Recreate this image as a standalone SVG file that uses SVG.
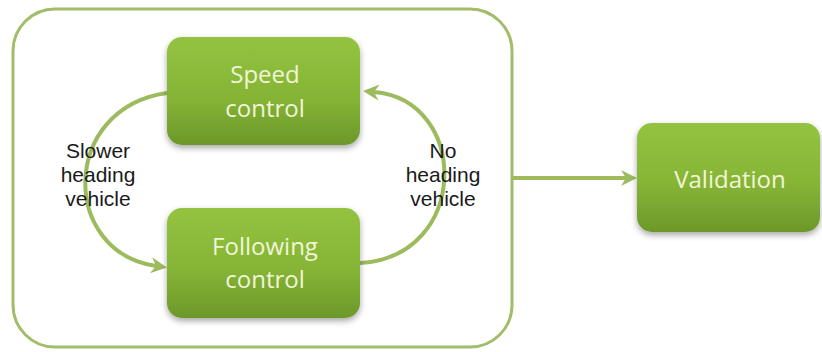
<svg xmlns="http://www.w3.org/2000/svg" width="822" height="352" viewBox="0 0 822 352">
<defs>
<linearGradient id="g" x1="0" y1="0" x2="0" y2="1">
<stop offset="0" stop-color="#93c33f"/>
<stop offset="0.55" stop-color="#86b536"/>
<stop offset="1" stop-color="#6c982a"/>
</linearGradient>
<filter id="sh" x="-10%" y="-10%" width="120%" height="130%">
<feDropShadow dx="0" dy="3" stdDeviation="3" flood-color="#000" flood-opacity="0.35"/>
</filter>
<marker id="ah" markerWidth="18" markerHeight="18" refX="6" refY="9" orient="auto" markerUnits="userSpaceOnUse">
<path d="M1,1 L17,9 L1,17 L6,9 z" fill="#9dbb5e"/>
</marker>
<style>
.box{fill:url(#g);filter:url(#sh)}
.bt{font-family:"Open Sans","Noto Sans","DejaVu Sans",sans-serif;font-size:24px;fill:#f1f5d8;text-anchor:middle}
.lbl{font-family:"Liberation Sans",Arial,sans-serif;font-size:21px;fill:#1a1a1a;text-anchor:middle}
.con{fill:none;stroke:#9dbb5e;stroke-width:4;marker-end:url(#ah)}
</style>
</defs>
<rect width="822" height="352" fill="#ffffff"/>
<g id="container">
<rect x="13" y="9" width="499" height="338" rx="42" ry="42" fill="none" stroke="#a2bd6a" stroke-width="3"/>
</g>
<g id="connectors">
<path class="con" d="M167,93 C60,108 60,252 156,266"/>
<path class="con" d="M360,263 C470,257 470,100 374,92"/>
<path class="con" d="M512,178 L626,178" stroke-width="5"/>
</g>
<g id="speed">
<rect class="box" x="167" y="37" width="193" height="108" rx="15" ry="15"/>
<text class="bt" x="265" y="83">Speed</text>
<text class="bt" x="265" y="117">control</text>
</g>
<g id="following">
<rect class="box" x="167" y="208" width="193" height="110" rx="15" ry="15"/>
<text class="bt" x="265" y="255">Following</text>
<text class="bt" x="265" y="288">control</text>
</g>
<g id="validation">
<rect class="box" x="637" y="123" width="183" height="109" rx="15" ry="15"/>
<text class="bt" x="730" y="188">Validation</text>
</g>
<g id="label-left">
<text class="lbl" x="98" y="158">Slower</text>
<text class="lbl" x="98" y="182">heading</text>
<text class="lbl" x="98" y="206">vehicle</text>
</g>
<g id="label-right">
<text class="lbl" x="443" y="158">No</text>
<text class="lbl" x="443" y="182">heading</text>
<text class="lbl" x="443" y="206">vehicle</text>
</g>
</svg>
